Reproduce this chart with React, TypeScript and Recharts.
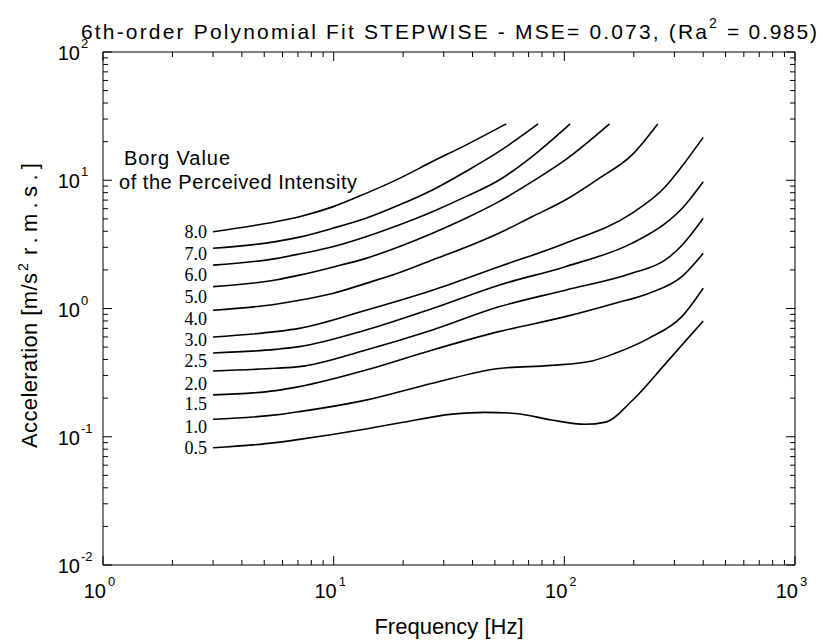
import React from 'react';
import { LineChart, Line, XAxis, YAxis, ReferenceDot } from 'recharts';

const W = 823;
const H = 642;
const SANS = '"Liberation Sans", Arial, Helvetica, sans-serif';
const SERIF = '"Liberation Serif", "Times New Roman", Times, serif';

// Axis ticks (log scales)
const freqTicks = [1, 2, 3, 4, 5, 6, 7, 8, 9, 10, 20, 30, 40, 50, 60, 70, 80, 90, 100, 200, 300, 400, 500, 600, 700, 800, 900, 1000];
const accTicks = [
  0.01, 0.02, 0.03, 0.04, 0.05, 0.06, 0.07, 0.08, 0.09,
  0.1, 0.2, 0.3, 0.4, 0.5, 0.6, 0.7, 0.8, 0.9,
  1, 2, 3, 4, 5, 6, 7, 8, 9,
  10, 20, 30, 40, 50, 60, 70, 80, 90, 100,
];

// Borg value labels and the acceleration level where each label is written (at 3 Hz)
const borgLabels = ['8.0', '7.0', '6.0', '5.0', '4.0', '3.0', '2.5', '2.0', '1.5', '1.0', '0.5'];
const labelFreq = 3;
const labelAcc = [3.97, 2.69, 1.83, 1.24, 0.84, 0.57, 0.39, 0.26, 0.18, 0.12, 0.082];

// Curves: frequency [Hz] / acceleration [m/s2 rms]
const c80 = [
  { f: 3, a: 3.97 }, { f: 5.6, a: 4.75 }, { f: 7.1, a: 5.2 }, { f: 9.9, a: 6.2 }, { f: 13.8, a: 7.9 },
  { f: 19.2, a: 10.3 }, { f: 26.8, a: 14.0 }, { f: 37.4, a: 18.8 }, { f: 56, a: 27.5 },
];
const c70 = [
  { f: 3, a: 2.95 }, { f: 5.6, a: 3.32 }, { f: 7.1, a: 3.6 }, { f: 9.9, a: 4.22 }, { f: 13.8, a: 5.05 },
  { f: 19.2, a: 6.4 }, { f: 26.8, a: 8.4 }, { f: 37.4, a: 11.7 }, { f: 52, a: 16.7 }, { f: 77, a: 27.5 },
];
const c60 = [
  { f: 3, a: 2.18 }, { f: 5.6, a: 2.45 }, { f: 7.1, a: 2.66 }, { f: 9.9, a: 3.03 }, { f: 13.8, a: 3.63 },
  { f: 19.2, a: 4.48 }, { f: 26.8, a: 5.69 }, { f: 37.4, a: 7.45 }, { f: 52, a: 10.0 }, { f: 72.5, a: 15.3 },
  { f: 106, a: 27.5 },
];
const c50 = [
  { f: 3, a: 1.48 }, { f: 5.6, a: 1.67 }, { f: 7.1, a: 1.82 }, { f: 9.9, a: 2.1 }, { f: 13.8, a: 2.46 },
  { f: 19.2, a: 3.03 }, { f: 26.8, a: 3.86 }, { f: 37.4, a: 5.05 }, { f: 52, a: 6.81 }, { f: 72.5, a: 9.75 },
  { f: 101, a: 14.4 }, { f: 157, a: 27.5 },
];
const c40 = [
  { f: 3, a: 0.97 }, { f: 5.6, a: 1.08 }, { f: 7.1, a: 1.16 }, { f: 9.9, a: 1.31 }, { f: 13.8, a: 1.57 },
  { f: 19.2, a: 1.9 }, { f: 26.8, a: 2.39 }, { f: 37.4, a: 3.0 }, { f: 52, a: 3.86 }, { f: 72.5, a: 5.2 },
  { f: 101, a: 7.01 }, { f: 141, a: 10.3 }, { f: 196, a: 15.7 }, { f: 254, a: 27.5 },
];
const c30 = [
  { f: 3, a: 0.6 }, { f: 5.6, a: 0.66 }, { f: 7.1, a: 0.7 }, { f: 13.8, a: 0.97 }, { f: 26.8, a: 1.39 },
  { f: 52, a: 2.12 }, { f: 101, a: 3.22 }, { f: 196, a: 5.52 }, { f: 274, a: 8.91 }, { f: 323, a: 12.8 },
  { f: 400, a: 21.6 },
];
const c25 = [
  { f: 3, a: 0.45 }, { f: 5.6, a: 0.48 }, { f: 7.1, a: 0.504 }, { f: 13.8, a: 0.68 }, { f: 26.8, a: 1.0 },
  { f: 52, a: 1.52 }, { f: 101, a: 2.12 }, { f: 196, a: 3.22 }, { f: 274, a: 4.61 }, { f: 323, a: 6.0 },
  { f: 400, a: 9.75 },
];
const c20 = [
  { f: 3, a: 0.326 }, { f: 5.6, a: 0.342 }, { f: 7.1, a: 0.352 }, { f: 13.8, a: 0.475 }, { f: 26.8, a: 0.68 },
  { f: 52, a: 1.03 }, { f: 101, a: 1.39 }, { f: 196, a: 1.88 }, { f: 274, a: 2.39 }, { f: 323, a: 3.1 },
  { f: 400, a: 5.05 },
];
const c15 = [
  { f: 3, a: 0.212 }, { f: 5.6, a: 0.229 }, { f: 7.1, a: 0.246 }, { f: 13.8, a: 0.331 }, { f: 26.8, a: 0.475 },
  { f: 52, a: 0.66 }, { f: 101, a: 0.864 }, { f: 166, a: 1.1 }, { f: 232, a: 1.31 }, { f: 323, a: 1.77 },
  { f: 400, a: 2.69 },
];
const c10 = [
  { f: 3, a: 0.137 }, { f: 5.6, a: 0.148 }, { f: 7.1, a: 0.157 }, { f: 13.8, a: 0.193 }, { f: 26.8, a: 0.261 },
  { f: 52, a: 0.341 }, { f: 88, a: 0.36 }, { f: 132, a: 0.39 }, { f: 166, a: 0.447 }, { f: 232, a: 0.585 },
  { f: 323, a: 0.864 }, { f: 400, a: 1.44 },
];
const c05 = [
  { f: 3, a: 0.082 }, { f: 5.6, a: 0.09 }, { f: 7.1, a: 0.0954 }, { f: 13.8, a: 0.115 }, { f: 19.2, a: 0.128 },
  { f: 32.7, a: 0.15 }, { f: 45, a: 0.155 }, { f: 61.5, a: 0.152 }, { f: 88, a: 0.135 }, { f: 123, a: 0.125 },
  { f: 151, a: 0.13 }, { f: 196, a: 0.19 }, { f: 274, a: 0.37 }, { f: 400, a: 0.8 },
];

const curves = [c80, c70, c60, c50, c40, c30, c25, c20, c15, c10, c05];

const expOf = (v: number) => Math.round(Math.log10(v));
const isMajor = (v: number) => Math.abs(Math.log10(v) - expOf(v)) < 1e-6;

const MAJ = 9;
const MIN = 5;

function BottomTick(props: any) {
  const { x, y, payload } = props;
  const v = payload.value;
  const major = isMajor(v);
  return (
    <g>
      <line x1={x} y1={y} x2={x} y2={y - (major ? MAJ : MIN)} stroke="#000" strokeWidth={1} />
      {major && (
        <g fontFamily={SANS} fill="#000">
          <text x={x + 3} y={y + 33} textAnchor="end" fontSize={20}>10</text>
          <text x={x + 5} y={y + 21} fontSize={13}>{String(expOf(v))}</text>
        </g>
      )}
    </g>
  );
}

function TopTick(props: any) {
  const { x, y, payload } = props;
  const major = isMajor(payload.value);
  return <line x1={x} y1={y} x2={x} y2={y + (major ? MAJ : MIN)} stroke="#000" strokeWidth={1} />;
}

function LeftTick(props: any) {
  const { x, y, payload } = props;
  const v = payload.value;
  const major = isMajor(v);
  return (
    <g>
      <line x1={x} y1={y} x2={x + (major ? MAJ : MIN)} y2={y} stroke="#000" strokeWidth={1} />
      {major && (
        <g fontFamily={SANS} fill="#000">
          <text x={x - 23} y={y + 8} textAnchor="end" fontSize={20}>10</text>
          <text x={x - 22} y={y - 4} fontSize={13}>{String(expOf(v))}</text>
        </g>
      )}
    </g>
  );
}

function RightTick(props: any) {
  const { x, y, payload } = props;
  const major = isMajor(payload.value);
  return <line x1={x} y1={y} x2={x - (major ? MAJ : MIN)} y2={y} stroke="#000" strokeWidth={1} />;
}

const axisLineStyle = { stroke: '#000', strokeWidth: 1 };

export default function App() {
  return (
    <div style={{ position: 'absolute', left: 0, top: 0, width: W, height: H, background: '#fff' }}>
      <LineChart width={W} height={H} margin={{ top: 51, right: 27, bottom: 76, left: 102 }}>
        <XAxis
          xAxisId={0}
          dataKey="f"
          type="number"
          scale="log"
          domain={[1, 1000]}
          allowDataOverflow
          ticks={freqTicks}
          interval={0}
          height={1}
          tickSize={0}
          tickMargin={0}
          axisLine={axisLineStyle}
          tickLine={false}
          tick={BottomTick}
        />
        <XAxis
          xAxisId="top"
          orientation="top"
          dataKey="f"
          type="number"
          scale="log"
          domain={[1, 1000]}
          allowDataOverflow
          ticks={freqTicks}
          interval={0}
          height={1}
          tickSize={0}
          tickMargin={0}
          axisLine={axisLineStyle}
          tickLine={false}
          tick={TopTick}
        />
        <YAxis
          yAxisId={0}
          dataKey="a"
          type="number"
          scale="log"
          domain={[0.01, 100]}
          allowDataOverflow
          ticks={accTicks}
          interval={0}
          width={1}
          tickSize={0}
          tickMargin={0}
          axisLine={axisLineStyle}
          tickLine={false}
          tick={LeftTick}
        />
        <YAxis
          yAxisId="right"
          orientation="right"
          dataKey="a"
          type="number"
          scale="log"
          domain={[0.01, 100]}
          allowDataOverflow
          ticks={accTicks}
          interval={0}
          width={1}
          tickSize={0}
          tickMargin={0}
          axisLine={axisLineStyle}
          tickLine={false}
          tick={RightTick}
        />
        {curves.map((c, i) => (
          <Line
            key={borgLabels[i]}
            data={c}
            dataKey="a"
            xAxisId={0}
            yAxisId={0}
            type="monotone"
            stroke="#000"
            strokeWidth={1.6}
            dot={false}
            activeDot={false}
            isAnimationActive={false}
          />
        ))}
        {borgLabels.map((lbl, i) => (
          <ReferenceDot
            key={'l' + lbl}
            x={labelFreq}
            y={labelAcc[i]}
            xAxisId={0}
            yAxisId={0}
            r={0}
            fill="none"
            stroke="none"
            label={{ value: lbl, position: 'left', offset: 6, fontFamily: SERIF, fontSize: 18, fill: '#000' }}
          />
        ))}
      </LineChart>
      <svg
        width={W}
        height={H}
        style={{ position: 'absolute', left: 0, top: 0, pointerEvents: 'none' }}
      >
        <g fontFamily={SANS} fill="#000">
          <text x={81} y={39} fontSize={21} textLength={626} lengthAdjust="spacing">
            6th-order Polynomial Fit STEPWISE - MSE= 0.073, (Ra
          </text>
          <text x={709} y={28} fontSize={14}>2</text>
          <text x={727} y={39} fontSize={21} textLength={90} lengthAdjust="spacing">
            = 0.985)
          </text>

          <text x={449} y={634} fontSize={22} textAnchor="middle">Frequency [Hz]</text>

          <g transform="translate(37,448) rotate(-90)">
            <text x={0} y={0} fontSize={22} textLength={175} lengthAdjust="spacing">
              Acceleration [m/s
            </text>
            <text x={177} y={-9} fontSize={14}>2</text>
            <text x={193} y={0} fontSize={22} textLength={92} lengthAdjust="spacing">
              r.m.s.]
            </text>
          </g>

          <text x={124} y={165} fontSize={20} textLength={106} lengthAdjust="spacing">Borg Value</text>
          <text x={119} y={189} fontSize={20} textLength={238} lengthAdjust="spacing">
            of the Perceived Intensity
          </text>
        </g>
      </svg>
    </div>
  );
}
